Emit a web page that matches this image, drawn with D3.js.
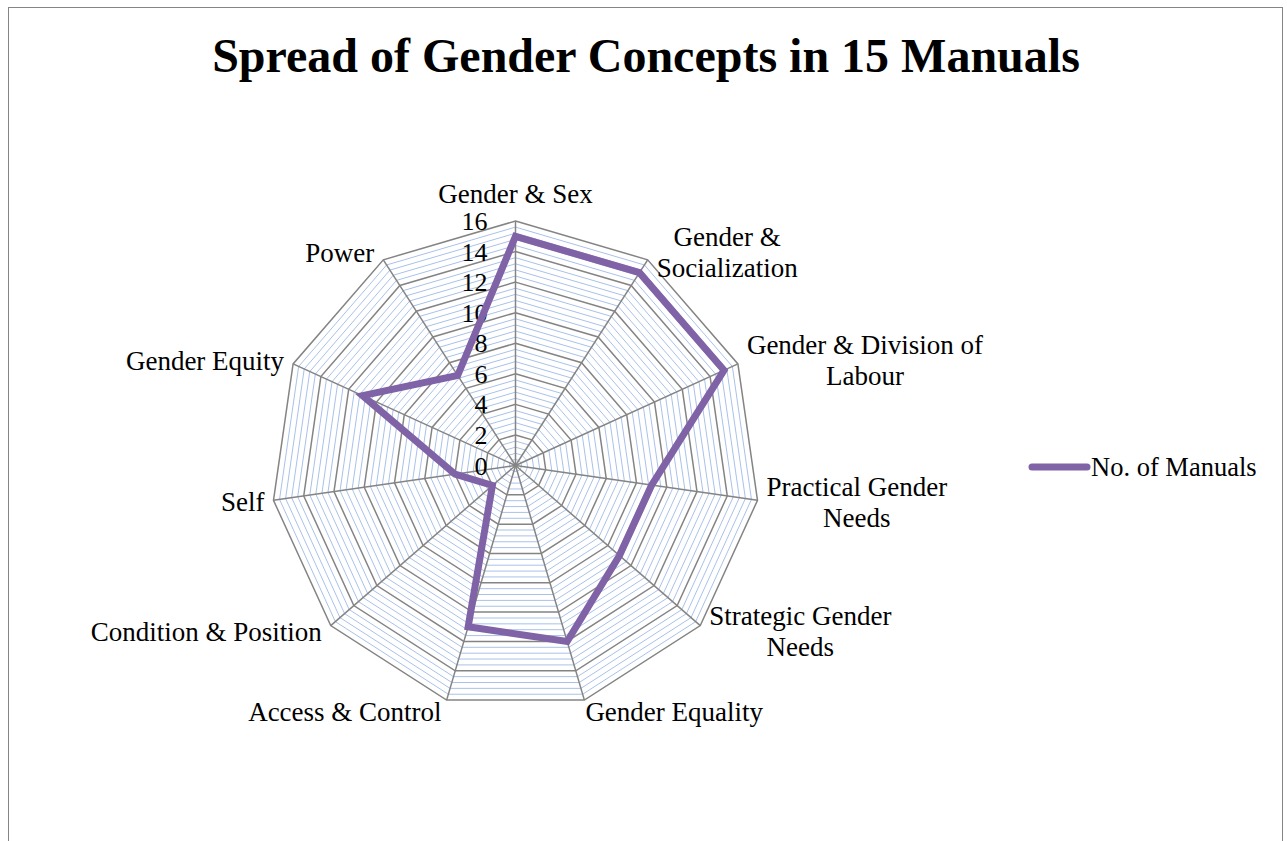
<!DOCTYPE html>
<html>
<head>
<meta charset="utf-8">
<script src="https://cdn.jsdelivr.net/npm/d3@7"></script>
<style>
  html, body { margin: 0; padding: 0; background: #ffffff; }
  svg { display: block; font-family: "Liberation Serif", "Times New Roman", serif; }
</style>
</head>
<body>
<svg id="chart" width="1287" height="841"></svg>
<script>
// Concepts covered, clockwise from the top
const categories = [
  ["Gender & Sex"],
  ["Gender &", "Socialization"],
  ["Gender & Division of", "Labour"],
  ["Practical Gender", "Needs"],
  ["Strategic Gender", "Needs"],
  ["Gender Equality"],
  ["Access & Control"],
  ["Condition & Position"],
  ["Self"],
  ["Gender Equity"],
  ["Power"]
];
// Number of manuals (out of 15) covering each concept
const manuals = [15, 15, 15, 9, 9, 12, 11, 2, 4, 11, 7];
const tickValues = [0, 2, 4, 6, 8, 10, 12, 14, 16];
const seriesName = "No. of Manuals";
const chartTitle = "Spread of Gender Concepts in 15 Manuals";

const svg = d3.select("#chart");
const cx = 515.5, cy = 465.5, R = 244.5;
const gray = "#848484", blue = "#a9c2ea", purple = "#7f63a6";

// chart frame
svg.append("rect")
  .attr("x", 8.5).attr("y", 7.5)
  .attr("width", 1274).attr("height", 900)
  .attr("fill", "#ffffff").attr("stroke", gray).attr("stroke-width", 1);

svg.append("text")
  .attr("x", 646).attr("y", 72)
  .attr("text-anchor", "middle")
  .attr("font-size", 48).attr("font-weight", "bold")
  .attr("fill", "#000")
  .text(chartTitle);

const n = categories.length;
const r = d3.scaleLinear().domain([0, 16]).range([0, R]);
const angle = d3.scaleLinear().domain([0, n]).range([0, 2 * Math.PI]);
const g = svg.append("g").attr("transform", `translate(${cx},${cy})`);

const ring = v => d3.lineRadial()
  .angle((d, i) => angle(i))
  .radius(() => r(v))
  .curve(d3.curveLinearClosed)(categories);

// minor rings every 0.4
const minor = d3.range(0.4, 16.001, 0.4).filter(v => Math.abs(v / 2 - Math.round(v / 2)) > 1e-6);
g.selectAll("path.minor").data(minor).join("path")
  .attr("class", "minor")
  .attr("d", d => ring(d))
  .attr("fill", "none").attr("stroke", blue).attr("stroke-width", 1);

// major rings
g.selectAll("path.major").data(tickValues.filter(v => v > 0)).join("path")
  .attr("class", "major")
  .attr("d", d => ring(d))
  .attr("fill", "none").attr("stroke", gray).attr("stroke-width", 1.5);

// spokes
g.selectAll("line.spoke").data(categories).join("line")
  .attr("class", "spoke")
  .attr("x1", 0).attr("y1", 0)
  .attr("x2", (d, i) => r(16) * Math.sin(angle(i)))
  .attr("y2", (d, i) => -r(16) * Math.cos(angle(i)))
  .attr("stroke", gray).attr("stroke-width", 1.5);

// value axis labels
g.selectAll("text.tick").data(tickValues).join("text")
  .attr("class", "tick")
  .attr("x", -28)
  .attr("y", d => -r(d))
  .attr("dy", "0.35em")
  .attr("text-anchor", "end")
  .attr("font-size", 26)
  .attr("fill", "#000")
  .text(d => d);

// data series
const radar = d3.lineRadial()
  .angle((d, i) => angle(i))
  .radius(d => r(d))
  .curve(d3.curveLinearClosed);
g.append("path")
  .datum(manuals)
  .attr("d", radar)
  .attr("fill", "none")
  .attr("stroke", purple).attr("stroke-width", 7)
  .attr("stroke-linejoin", "miter");

// category labels
const lh = 31;
categories.forEach((lines, i) => {
  const a = angle(i), s = Math.sin(a), c = Math.cos(a);
  const vx = r(16) * s, vy = -r(16) * c;
  const t = g.append("text").attr("font-size", 27).attr("fill", "#000")
    .attr("text-anchor", "middle");
  const spans = lines.map(l => t.append("tspan").text(l));
  const widths = spans.map(sp => sp.node().getComputedTextLength());
  const bw = d3.max(widths);
  let bx, centerY;
  if (Math.abs(s) < 0.1) {
    bx = vx;
    centerY = vy - 27 - (lines.length - 1) * lh / 2;
  } else if (c < -0.9) {
    bx = s > 0 ? vx + 1 + bw / 2 : vx - 5 - bw / 2;
    centerY = vy + 11 + (lines.length - 1) * lh / 2;
  } else {
    bx = s > 0 ? vx + 9 + bw / 2 : vx - 9 - bw / 2;
    centerY = vy - c * 9;
  }
  spans.forEach((sp, k) => {
    sp.attr("x", bx)
      .attr("y", centerY - (lines.length - 1) * lh / 2 + k * lh)
      .attr("dy", "0.35em");
  });
});

// legend
const lg = svg.append("g");
lg.append("line")
  .attr("x1", 1032).attr("x2", 1087)
  .attr("y1", 467).attr("y2", 467)
  .attr("stroke", purple).attr("stroke-width", 7)
  .attr("stroke-linecap", "round");
lg.append("text")
  .attr("x", 1091).attr("y", 467).attr("dy", "0.35em")
  .attr("font-size", 26.5).attr("fill", "#000")
  .text(seriesName);
</script>
</body>
</html>
